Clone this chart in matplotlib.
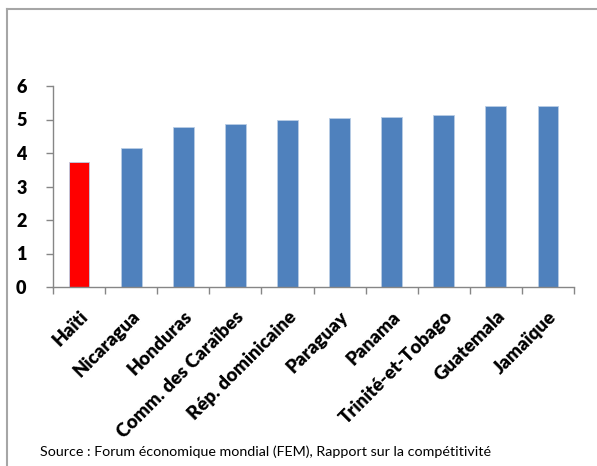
import matplotlib
matplotlib.use("Agg")
import matplotlib.pyplot as plt
from matplotlib.lines import Line2D

countries = ["Haïti", "Nicaragua", "Honduras", "Comm. des Caraïbes", "Rép. dominicaine",
             "Paraguay", "Panama", "Trinité-et-Tobago", "Guatemala", "Jamaïque"]
values = [3.74, 4.16, 4.79, 4.86, 4.98, 5.05, 5.08, 5.14, 5.39, 5.39]
colors = ["#FF0000"] + ["#4F81BD"] * 9
yticks = [0, 1, 2, 3, 4, 5, 6]
source = "Source : Forum économique mondial (FEM), Rapport sur la compétitivité"

plt.rcParams['font.family'] = ['Lato', 'DejaVu Sans']

fig = plt.figure(figsize=(5.97, 4.66), dpi=100)
ax = fig.add_axes([53/597, 1-287/466, (574-53)/597, (287-86)/466])

x = list(range(len(countries)))
ax.bar(x, values, width=0.4, color=colors, edgecolor="#B9CDE5", linewidth=0.6, zorder=2)

ax.set_xlim(-0.5, len(countries) - 0.5)
ax.set_ylim(0, 6)
ax.set_yticks(yticks)
ax.set_yticklabels([str(t) for t in yticks], fontsize=13, fontweight='heavy')

ax.set_xticks([i - 0.5 for i in range(len(countries) + 1)])
ax.set_xticklabels([])
ax.set_xticks(x, minor=True)
ax.set_xticklabels(countries, minor=True, rotation=45, ha='right', va='top',
                   rotation_mode='anchor', fontsize=13.5, fontweight='heavy')
ax.tick_params(axis='x', which='minor', length=0, pad=15)
ax.tick_params(axis='x', which='major', direction='out', length=5, color='#868686', width=1)
ax.tick_params(axis='y', direction='out', length=5, color='#868686', width=1, pad=14)

for s in ['top', 'right']:
    ax.spines[s].set_visible(False)
for s in ['left', 'bottom']:
    ax.spines[s].set_color('#868686')
    ax.spines[s].set_linewidth(1)

fig.text(40/597, 1-456/466, source, fontsize=10.3, ha='left', va='baseline')

fig.add_artist(Line2D([7/597, 7/597], [0, 1-9/466], transform=fig.transFigure,
                      color='#A6A6A6', linewidth=1.5))
fig.add_artist(Line2D([7/597, 1], [1-9/466, 1-9/466], transform=fig.transFigure,
                      color='#A6A6A6', linewidth=1.5))

fig.savefig("out.png", dpi=100)
